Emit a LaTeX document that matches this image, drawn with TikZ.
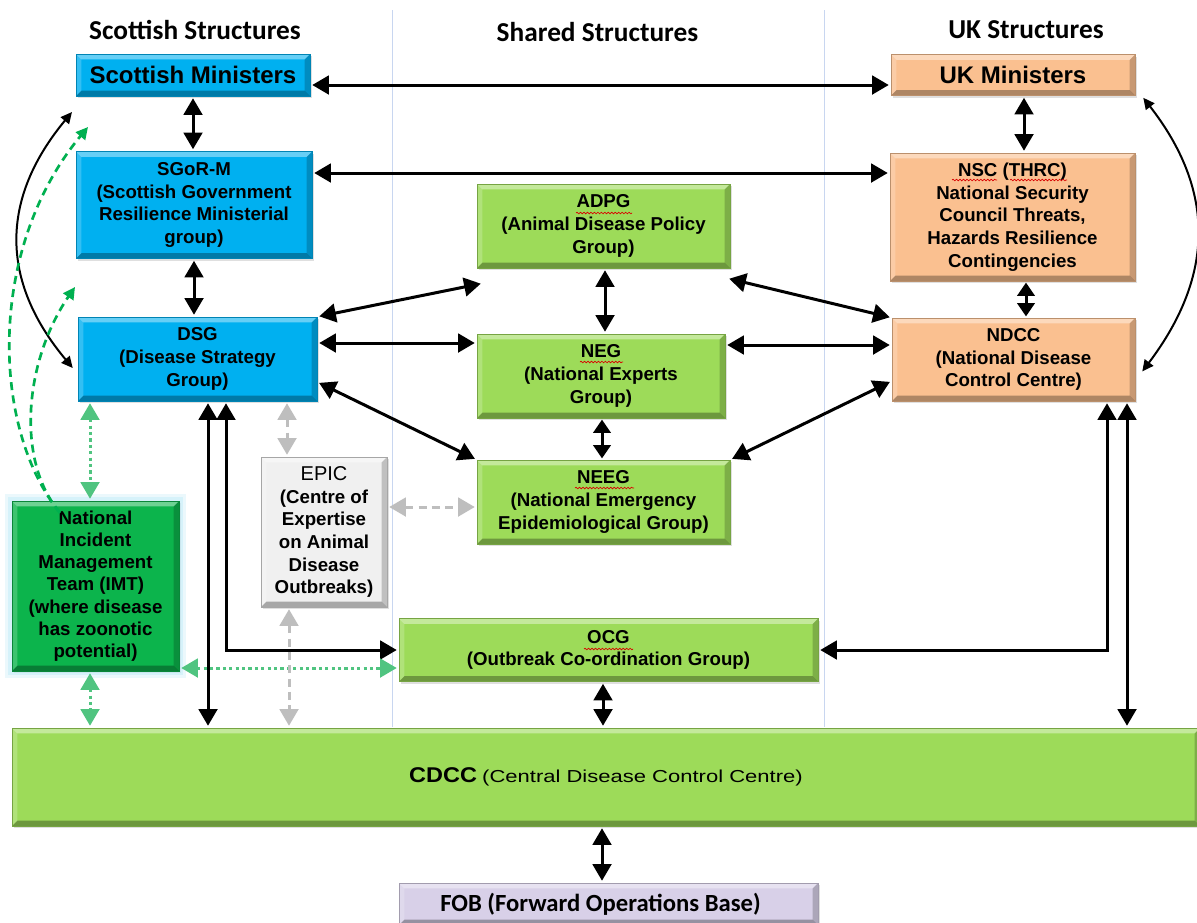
\documentclass[tikz,border=0pt]{standalone}
\usepackage{fontspec}
\setmainfont{Liberation Sans}
\newfontfamily\calib{Carlito}
\newfontfamily\widefont{Liberation Sans}[FakeStretch=1.27]
\newfontfamily\wideboldfont{Liberation Sans}[FakeStretch=1.1]
\usetikzlibrary{arrows.meta,decorations.pathmorphing,shadows}
\definecolor{scotblue}{RGB}{0,176,240}
\definecolor{ukorange}{RGB}{250,192,144}
\definecolor{shgreen}{RGB}{157,219,89}
\definecolor{imtgreen}{RGB}{12,180,76}
\definecolor{epicgray}{RGB}{240,240,240}
\definecolor{fobpurple}{RGB}{216,208,232}
\definecolor{dotgreen}{RGB}{80,196,128}
\definecolor{dashgreen}{RGB}{0,176,80}
\definecolor{arrgray}{RGB}{190,190,190}
\definecolor{divline}{RGB}{200,214,240}
\definecolor{glow}{RGB}{190,235,248}
\tikzset{
  bevel/.style={path picture={
    \path (path picture bounding box.north west) coordinate (bnw)
          (path picture bounding box.north east) coordinate (bne)
          (path picture bounding box.south west) coordinate (bsw)
          (path picture bounding box.south east) coordinate (bse);
    \fill[white,opacity=.4] (bnw) -- (bne) -- ([shift={(-4pt,-4pt)}]bne) -- ([shift={(4pt,-4pt)}]bnw) -- cycle;
    \fill[white,opacity=.2] (bnw) -- (bsw) -- ([shift={(4pt,4pt)}]bsw) -- ([shift={(4pt,-4pt)}]bnw) -- cycle;
    \fill[black,opacity=.3] (bsw) -- (bse) -- ([shift={(-4pt,4pt)}]bse) -- ([shift={(4pt,4pt)}]bsw) -- cycle;
    \fill[black,opacity=.2] (bne) -- (bse) -- ([shift={(-4pt,4pt)}]bse) -- ([shift={(-4pt,-4pt)}]bne) -- cycle;
  }},
  box/.style={rectangle, draw=#1!75!black, line width=0.4pt, fill=#1, bevel,
    drop shadow={shadow xshift=1.5pt, shadow yshift=-1.5pt, opacity=0.25},
    align=center, inner sep=0pt, font=\bfseries\fontsize{14}{17}\selectfont},
  heading/.style={font=\calib\bfseries\fontsize{20.5}{24}\selectfont},
  arr/.style={draw=black, line width=2.25pt, shorten <=1.5pt, shorten >=1.5pt,
    {Triangle[length=12.5pt,width=14pt]}-{Triangle[length=12.5pt,width=14pt]}},
  arrshort/.style={draw=black, line width=2.25pt, shorten <=1pt, shorten >=1pt,
    {Triangle[length=10pt,width=13pt]}-{Triangle[length=10pt,width=13pt]}},
  curv/.style={draw=black, line width=1.5pt,
    {Triangle[length=8.5pt,width=8pt]}-{Triangle[length=8.5pt,width=8pt]}},
  gdot/.style={draw=dotgreen, line width=2.25pt, dash pattern=on 2.4pt off 2.4pt,
    shorten <=1.5pt, shorten >=1.5pt,
    {Triangle[length=12.5pt,width=14pt]}-{Triangle[length=12.5pt,width=14pt]}},
  gdash/.style={draw=dashgreen, line width=2pt, dash pattern=on 6pt off 4pt,
    -{Triangle[length=9pt,width=9pt]}},
  grey/.style={draw=arrgray, line width=2.25pt, dash pattern=on 6pt off 4pt,
    shorten <=1.5pt, shorten >=1.5pt,
    {Triangle[length=12.5pt,width=14pt]}-{Triangle[length=12.5pt,width=14pt]}},
  squig/.style={draw=red!85!black, line width=0.5pt, decorate,
    decoration={snake, amplitude=0.6pt, segment length=2.6pt}},
}
\begin{document}
\begin{tikzpicture}[x=0.75pt,y=-0.75pt]
\useasboundingbox[fill=white] (0,0) rectangle (1197,922);

% column dividers
\draw[divline, line width=0.75pt] (392,10) -- (392,727);
\draw[divline, line width=0.75pt] (824,10) -- (824,727);

% headings
\node[heading] (hscot) at (195,30) {Scottish Structures};
\node[heading] (hshared) at (597.5,32) {Shared Structures};
\node[heading] (huk) at (1026,30) {UK Structures};

% Scottish boxes
\node[box=scotblue, minimum width=175.5pt, minimum height=31.5pt,
      font=\bfseries\fontsize{18}{20}\selectfont] (sm) at (193,75) {Scottish Ministers};
\node[box=scotblue, minimum width=177pt, minimum height=80.25pt] (sgor) at (194,205)
  {SGoR-M\\(Scottish Government\\Resilience Ministerial\\group)};
\node[box=scotblue, minimum width=179.25pt, minimum height=63pt] (dsg) at (197.5,359)
  {DSG\\(Disease Strategy\\Group)};
\node[box=imtgreen, drop shadow={opacity=0},
      preaction={draw=glow, line width=11pt, opacity=0.3},
      preaction={draw=glow, line width=6pt, opacity=0.45},
      minimum width=125.25pt, minimum height=127.5pt, font=\bfseries\fontsize{14}{16.7}\selectfont]
  (imt) at (95.5,586)
  {National\\Incident\\Management\\Team (IMT)\\(where disease\\has zoonotic\\potential)};
\node[box=epicgray, draw=gray!70, minimum width=94.5pt, minimum height=112.5pt] (epic) at (324,532)
  {{\mdseries\fontsize{15}{17}\selectfont EPIC}\\(Centre of\\Expertise\\on Animal\\Disease\\Outbreaks)};

% shared boxes
\node[box=shgreen, minimum width=189.75pt, minimum height=63pt] (adpg) at (603.5,226)
  {ADPG\\(Animal Disease Policy\\Group)};
\node[box=shgreen, minimum width=186pt, minimum height=63pt] (neg) at (601,376)
  {NEG\\(National Experts\\Group)};
\node[box=shgreen, minimum width=189.75pt, minimum height=63pt] (neeg) at (603.5,502)
  {NEEG\\(National Emergency\\Epidemiological Group)};
\node[box=shgreen, minimum width=314.25pt, minimum height=47.25pt] (ocg) at (608.5,650)
  {OCG\\(Outbreak Co-ordination Group)};
\node[box=shgreen, minimum width=891pt, minimum height=73.5pt] (cdcc) at (606,777)
  {{\wideboldfont\bfseries\fontsize{16}{18}\selectfont CDCC} {\widefont\mdseries\fontsize{13}{18}\selectfont(Central Disease Control Centre)}};
\node[box=fobpurple, minimum width=314.25pt, minimum height=31.5pt,
      font=\calib\bfseries\fontsize{18.5}{20}\selectfont] (fob) at (608.5,904)
  {FOB (Forward Operations Base)\hspace*{12pt}};

% UK boxes
\node[box=ukorange, minimum width=183pt, minimum height=30.75pt,
      font=\bfseries\fontsize{18}{20}\selectfont] (ukm) at (1013,75) {UK Ministers};
\node[box=ukorange, minimum width=183.75pt, minimum height=96pt] (nsc) at (1012.5,217)
  {NSC (THRC)\\National Security\\Council Threats,\\Hazards Resilience\\Contingencies};
\node[box=ukorange, minimum width=182.25pt, minimum height=62.25pt] (ndcc) at (1013.5,359.5)
  {NDCC\\(National Disease\\Control Centre)};

% spell-check squiggles
\draw[squig] (576,213) -- (632,213);
\draw[squig] (580,362) -- (623,362);
\draw[squig] (575,488) -- (634,488);
\draw[squig] (952,180) -- (997,180);
\draw[squig] (1010,180) -- (1067,180);
\draw[squig] (584,649) -- (633,649);

% free-end coordinates
\coordinate (smL) at (72,112);
\coordinate (dsgL) at ([shift={(-5,9)}]dsg.west);
\coordinate (ukmR) at ([shift={(8,2)}]ukm.south east);
\coordinate (ndccR) at ([shift={(7,12)}]ndcc.east);
\coordinate (imtTL) at ([shift={(-35.5,12)}]imt.north);
\coordinate (gA) at (88,127);
\coordinate (gB) at (75,287);
\coordinate (adpgSW) at ([shift={(6,15)}]adpg.south west);
\coordinate (adpgSE) at ([shift={(-3,10)}]adpg.south east);

% black connectors
\draw[arr] ([yshift=-7.5pt]sm.east) -- ([yshift=-7.5pt]ukm.west);
\draw[arr] (sm.south) -- (sm.south |- sgor.north);
\draw[arr] (sgor.east |- 0,173) -- (nsc.west |- 0,173);
\draw[arr] (sgor.south) -- (sgor.south |- dsg.north);
\draw[arr] (1024,0 |- ukm.south) -- (1024,0 |- nsc.north);
\draw[arrshort] (1026,0 |- nsc.south) -- (1026,0 |- ndcc.north);
\draw[arr] (dsg.north east) -- (adpgSW);
\draw[arr] (dsg.east |- 0,343) -- (neg.west |- 0,343);
\draw[arr] (dsg.east |- 0,382) -- (neeg.north west);
\draw[arr] (605,0 |- adpg.south) -- (605,0 |- neg.north);
\draw[arrshort] (602,0 |- neg.south) -- (602,0 |- neeg.north);
\draw[arr] (ndcc.north west) -- (adpgSE);
\draw[arr] (neg.east |- 0,345) -- (ndcc.west |- 0,345);
\draw[arr] (neeg.north east) -- (ndcc.west |- 0,381);
\draw[arr] (208,0 |- dsg.south) -- (208,0 |- cdcc.north);
\draw[arr] (226,0 |- dsg.south) -- (226,0 |- ocg.west) -- (ocg.west);
\draw[arr] (1107,0 |- ndcc.south) -- (1107,0 |- ocg.east) -- (ocg.east);
\draw[arr] (1127,0 |- ndcc.south) -- (1127,0 |- cdcc.north);
\draw[arr] (603,0 |- ocg.south) -- (603,0 |- cdcc.north);
\draw[arr] (602,0 |- cdcc.south) -- (602,0 |- fob.north);

% curved black connectors
\draw[curv] (smL) .. controls (0,199) and (0,281) .. (dsgL);
\draw[curv] (ukmR) .. controls (1215,190) and (1215,275) .. (ndccR);

% green dotted (IMT)
\draw[gdot] (90,0 |- dsg.south) -- (90,0 |- imt.north);
\draw[gdot] (90,0 |- imt.south) -- (90,0 |- cdcc.north);
\draw[gdot] (imt.east |- 0,668) -- (ocg.west |- 0,668);

% green dashed curves from IMT
\draw[gdash] (imtTL) .. controls (-8,430) and (-14,250) .. (gA);
\draw[gdash] (imtTL) .. controls (15,460) and (25,360) .. (gB);

% grey dashed (EPIC)
\draw[grey] (287,0 |- dsg.south) -- (287,0 |- epic.north);
\draw[grey] (289,0 |- epic.south) -- (289,0 |- cdcc.north);
\draw[grey] (epic.east |- 0,507) -- (neeg.west |- 0,507);
\end{tikzpicture}
\end{document}
